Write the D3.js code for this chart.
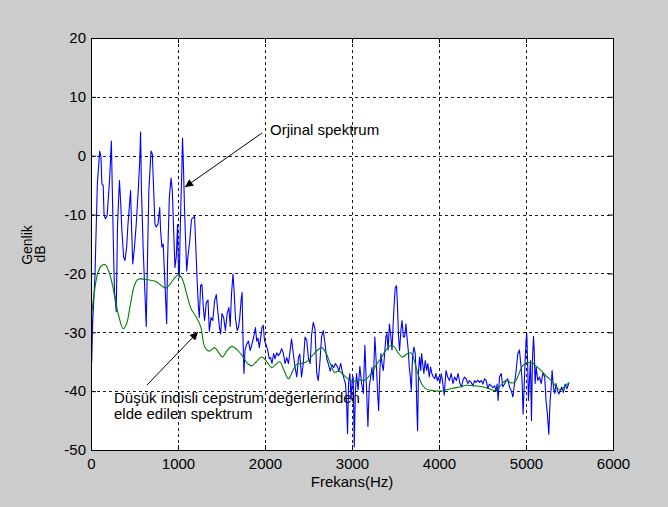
<!DOCTYPE html>
<html><head><meta charset="utf-8">
<script src="https://cdn.jsdelivr.net/npm/d3@7"></script>
<style>
body{margin:0;background:#cccccc;}
svg{display:block;font-family:Arial,"Liberation Sans",sans-serif;}
</style></head>
<body><svg id="chart" width="668" height="507"></svg>
<script>
// ---------- data ----------
const xTicks = [0, 1000, 2000, 3000, 4000, 5000, 6000];
const yTicks = [20, 10, 0, -10, -20, -30, -40, -50];
const xLabel = "Frekans(Hz)";
const yLabelLines = ["Genlik", "dB"];
const note1 = "Orjinal spektrum";
const note2Lines = ["Düşük indisli cepstrum değerlerinden", "elde edilen spektrum"];

// original spectrum (blue)
const origFreq = [0,8,20,45,73,100,115,125,140,150,165,185,200,214,234,245,260,270,290,305,327,340,355,375,390,410,425,455,465,480,500,520,545,560,570,580,600,620,635,650,665,690,705,715,735,750,770,790,800,815,830,870,880,900,920,935,950,965,980,995,1005,1015,1025,1035,1045,1052,1062,1075,1085,1100,1115,1135,1155,1190,1205,1220,1235,1245,1260,1275,1290,1305,1325,1345,1360,1380,1400,1420,1440,1455,1475,1490,1505,1525,1545,1565,1585,1600,1615,1632,1645,1660,1680,1695,1710,1725,1737,1745,1758,1770,1790,1810,1830,1850,1870,1890,1905,1920,1935,1950,1965,1980,1995,2010,2030,2050,2065,2080,2100,2115,2135,2155,2175,2190,2210,2230,2250,2270,2290,2305,2325,2345,2365,2385,2400,2420,2440,2460,2480,2500,2520,2535,2555,2575,2595,2612,2630,2650,2670,2690,2710,2730,2750,2770,2790,2810,2830,2850,2870,2890,2910,2925,2937,2949,2960,2975,2990,3002,3014,3026,3038,3052,3070,3090,3110,3130,3148,3165,3183,3198,3214,3230,3245,3263,3280,3295,3306,3320,3333,3345,3360,3375,3390,3402,3415,3430,3447,3460,3475,3485,3497,3512,3522,3535,3547,3562,3575,3590,3605,3620,3632,3647,3658,3670,3681,3696,3712,3727,3735,3746,3754,3765,3777,3790,3800,3812,3826,3842,3858,3872,3888,3903,3918,3934,3950,3965,3980,3995,4010,4025,4040,4060,4080,4100,4120,4140,4160,4180,4200,4220,4240,4260,4274,4293,4312,4332,4350,4370,4390,4410,4427,4446,4465,4485,4505,4524,4543,4562,4580,4600,4620,4640,4657,4668,4680,4695,4715,4734,4753,4772,4790,4810,4830,4850,4868,4887,4906,4925,4944,4955,4967,4980,4990,5001,5009,5020,5028,5040,5051,5063,5074,5086,5094,5105,5117,5135,5155,5175,5195,5215,5230,5246,5262,5277,5290,5300,5315,5330,5345,5360,5378,5395,5410,5430,5450,5470,5496];
const origDb = [13.5,-35,-28,-20.6,-4.8,0.8,-0.3,-4.8,-5,-10,-10.7,-10.2,-7,-4,2.5,-5.9,-17,-23,-26.5,-11.6,-4.2,-7.6,-12.7,-17.2,-17.8,-15.5,-11.6,-5.9,-11.6,-18.4,-15.5,-11.6,-5.4,-0.8,4,-5.9,-16,-23.4,-29,-17,-5.9,0.8,0.3,-3.7,-11.6,-12.1,-11.6,-8.8,-12.7,-15.5,-15,-28.5,-18,-7.2,-3.8,-6,-12.7,-19,-17.2,-11.7,-19.5,-20.7,-13,-7.2,-2,3,-1.5,-9,-13.5,-19.6,-17,-14.5,-10.8,-10.3,-15.5,-21.3,-25.8,-27.5,-22,-21.9,-25.5,-28,-25,-24.5,-29.8,-27.5,-28,-24.7,-23.6,-26,-29,-30.3,-26.8,-27.5,-29.7,-26.8,-25.8,-29,-23.5,-20.1,-23,-27.5,-29.7,-29.2,-27.5,-24.6,-23.2,-30,-37,-33,-32,-31.5,-33.1,-32,-30.8,-29.2,-31.5,-31,-32.6,-31,-29.2,-28.8,-31.5,-32,-33,-34.5,-34.3,-35.3,-33.6,-34.5,-33.5,-34,-33.5,-32.8,-33.5,-35.3,-34.3,-35.3,-33,-31.1,-33.6,-35.9,-37.6,-34.3,-33.7,-37.6,-35.3,-30.8,-31.4,-34.5,-35.3,-30.5,-28.3,-29.5,-37,-38.2,-35.3,-30.8,-29.7,-31.9,-34.5,-35.5,-36.6,-35.5,-36,-35.3,-35.8,-36.6,-35.3,-36.8,-38,-38.7,-41.5,-47.2,-38.7,-37,-41.5,-38,-37.6,-49.5,-40.4,-37,-39.8,-35.8,-38.7,-40.4,-32.2,-38.7,-46,-39.3,-37.6,-36,-38.2,-30.8,-35.5,-40.5,-43.3,-36.5,-33.6,-35.3,-36.5,-33.6,-30.8,-30.2,-33,-28.6,-30.8,-33,-28,-25.2,-22.4,-22.1,-25.2,-30.8,-33.1,-29.7,-28,-30.8,-30.8,-28.6,-30.8,-33.1,-35.9,-37.6,-39.9,-34.2,-32.5,-33.6,-36.5,-43.3,-46.7,-36.5,-34.2,-36.5,-33.6,-35.3,-37,-34.8,-36.5,-35.3,-37.6,-35.9,-37,-37.6,-37.9,-37,-38.2,-37.6,-38.7,-37,-38.2,-40.7,-36.5,-37.6,-38.2,-37,-38.7,-37.6,-38.2,-37,-38.7,-39.3,-38.2,-37.6,-37.9,-38.7,-38.2,-38.5,-39.1,-38.2,-38.5,-38.1,-38.5,-38.2,-38.8,-37.9,-38.2,-39.6,-38.8,-39.1,-39.4,-39.1,-40,-38.8,-41.6,-37.6,-37,-39.3,-38.8,-38.2,-37.9,-39.3,-39.9,-41,-38.7,-36.4,-33.6,-33,-36,-38.2,-43.9,-38.7,-34.8,-31.3,-30.2,-35.9,-41.6,-38.2,-34.8,-45,-34.8,-30.7,-33,-38.7,-35.9,-38.2,-37.6,-38.7,-36.9,-37.6,-41.6,-43.9,-47.3,-41.6,-39.3,-36.5,-39.3,-40.4,-38.7,-39.9,-40.5,-39.9,-39.3,-40.2,-38.8,-39.6,-38.5];

// low-order cepstrum spectrum (green)
const smoothFreq = [0,40,80,120,160,200,240,280,320,370,410,450,500,540,620,700,760,820,860,900,960,1010,1050,1100,1150,1210,1260,1310,1360,1420,1470,1510,1560,1620,1680,1740,1800,1850,1900,1965,2020,2080,2120,2170,2220,2270,2320,2360,2420,2480,2560,2650,2700,2750,2800,2850,2900,2960,3010,3080,3150,3220,3280,3330,3390,3440,3480,3530,3580,3630,3680,3720,3760,3810,3860,3930,4000,4080,4160,4240,4310,4400,4480,4560,4650,4700,4770,4830,4870,4920,4960,5010,5070,5120,5180,5230,5290,5350,5390,5440,5490];
const smoothDb = [-28,-23,-19.8,-18.7,-18.5,-19.5,-21.5,-24.5,-27.3,-29.4,-28.5,-25.5,-22,-21,-21,-21.2,-21.5,-22.2,-22.5,-22,-20.8,-20.2,-21,-23.5,-26,-27.4,-29,-32.6,-33.2,-32.6,-33.5,-34.2,-33.2,-32.4,-33,-34,-35.3,-35.7,-35,-34.2,-35,-36,-35.5,-35,-36.5,-37.9,-36.5,-35.5,-35.3,-35,-33.7,-32.6,-33.5,-35.3,-36.8,-36.6,-37.2,-38,-38.4,-38.1,-38.1,-37,-35.5,-34.5,-33,-32.3,-32.4,-33.5,-34.2,-33.7,-33.5,-35,-37.2,-39,-39.7,-39.9,-40,-39.8,-39.5,-39.3,-39,-39.1,-39.2,-39.5,-39.9,-39.2,-38.2,-38.6,-38.5,-37,-35.7,-35.2,-35.2,-35.8,-36.6,-37.4,-38.2,-39.3,-39.8,-39.3,-38.6];

// ---------- layout ----------
const L = 91, T = 38, R = 613, B = 450;
const svg = d3.select("#chart");
const x = d3.scaleLinear().domain([0, 6000]).range([L, R]);
const y = d3.scaleLinear().domain([-50, 20]).range([B, T]);

svg.append("rect").attr("width", 668).attr("height", 507).attr("fill", "#cccccc");
svg.append("rect").attr("x", L).attr("y", T).attr("width", R - L).attr("height", B - T).attr("fill", "#ffffff");

// grid
const grid = svg.append("g").attr("stroke", "#1a1a1a").attr("stroke-width", 1).attr("stroke-dasharray", "3,3");
grid.selectAll("line.v").data(xTicks.slice(1, -1)).join("line")
  .attr("x1", d => Math.round(x(d)) + 0.5).attr("x2", d => Math.round(x(d)) + 0.5)
  .attr("y1", T).attr("y2", B);
grid.selectAll("line.h").data(yTicks.slice(1, -1)).join("line").attr("class", "h")
  .attr("y1", d => Math.round(y(d)) + 0.5).attr("y2", d => Math.round(y(d)) + 0.5)
  .attr("x1", L).attr("x2", R);

// clip
svg.append("clipPath").attr("id", "clip").append("rect")
  .attr("x", L).attr("y", T).attr("width", R - L).attr("height", B - T);

const blueLine = d3.line().x((d, i) => x(origFreq[i])).y(d => y(d));
svg.append("path").datum(origDb).attr("clip-path", "url(#clip)")
  .attr("fill", "none").attr("stroke", "#0000ff").attr("stroke-width", 1.1)
  .attr("stroke-linejoin", "round").attr("d", blueLine);

const greenLine = d3.line().x((d, i) => x(smoothFreq[i])).y(d => y(d)).curve(d3.curveCatmullRom.alpha(0.5));
svg.append("path").datum(smoothDb).attr("clip-path", "url(#clip)")
  .attr("fill", "none").attr("stroke", "#008000").attr("stroke-width", 1.1)
  .attr("d", greenLine);

// axes
const fmt = d => String(d);
function styleAxis(g) {
  g.select(".domain").remove();
  g.selectAll(".tick line").attr("stroke", "#000");
  g.selectAll("text").attr("font-size", 15).attr("fill", "#000")
    .attr("font-family", "Arial, 'Liberation Sans', sans-serif");
}
svg.append("g").attr("transform", `translate(${L},0)`)
  .call(d3.axisLeft(y).tickValues(yTicks).tickFormat(fmt).tickSize(-5).tickPadding(5)).call(styleAxis);
svg.append("g").attr("transform", `translate(${R},0)`)
  .call(d3.axisRight(y).tickValues(yTicks).tickFormat("").tickSize(-5)).call(styleAxis);
svg.append("g").attr("transform", `translate(0,${B})`)
  .call(d3.axisBottom(x).tickValues(xTicks).tickFormat(fmt).tickSize(-5).tickPadding(8)).call(styleAxis);
svg.append("g").attr("transform", `translate(0,${T})`)
  .call(d3.axisTop(x).tickValues(xTicks).tickFormat("").tickSize(-5)).call(styleAxis);

// frame
svg.append("rect").attr("x", L + 0.5).attr("y", T + 0.5).attr("width", R - L).attr("height", B - T)
  .attr("fill", "none").attr("stroke", "#000").attr("stroke-width", 1);

// labels
svg.append("text").attr("x", 352).attr("y", 487).attr("text-anchor", "middle")
  .attr("font-size", 15).text(xLabel);
const yl = svg.append("text").attr("transform", "translate(0,248) rotate(-90)")
  .attr("text-anchor", "middle").attr("font-size", 14);
yl.append("tspan").attr("x", 3).attr("y", 32).text(yLabelLines[0]);
yl.append("tspan").attr("x", -6).attr("y", 45).text(yLabelLines[1]);

// annotations
svg.append("defs").append("marker").attr("id", "arr").attr("viewBox", "0 0 10 10")
  .attr("refX", 10).attr("refY", 5).attr("markerWidth", 12).attr("markerHeight", 8)
  .attr("markerUnits", "userSpaceOnUse").attr("orient", "auto")
  .append("path").attr("d", "M0,0L10,5L0,10Z").attr("fill", "#000");

svg.append("line").attr("x1", 262).attr("y1", 133).attr("x2", 185).attr("y2", 187)
  .attr("stroke", "#000").attr("stroke-width", 1).attr("marker-end", "url(#arr)");
svg.append("text").attr("x", 270).attr("y", 135).attr("font-size", 15).text(note1);

svg.append("line").attr("x1", 147).attr("y1", 385).attr("x2", 198).attr("y2", 332)
  .attr("stroke", "#000").attr("stroke-width", 1).attr("marker-end", "url(#arr)");
const t2 = svg.append("text").attr("font-size", 15);
t2.append("tspan").attr("x", 114).attr("y", 403).text(note2Lines[0]);
t2.append("tspan").attr("x", 114).attr("y", 419).text(note2Lines[1]);
</script>
</body></html>
